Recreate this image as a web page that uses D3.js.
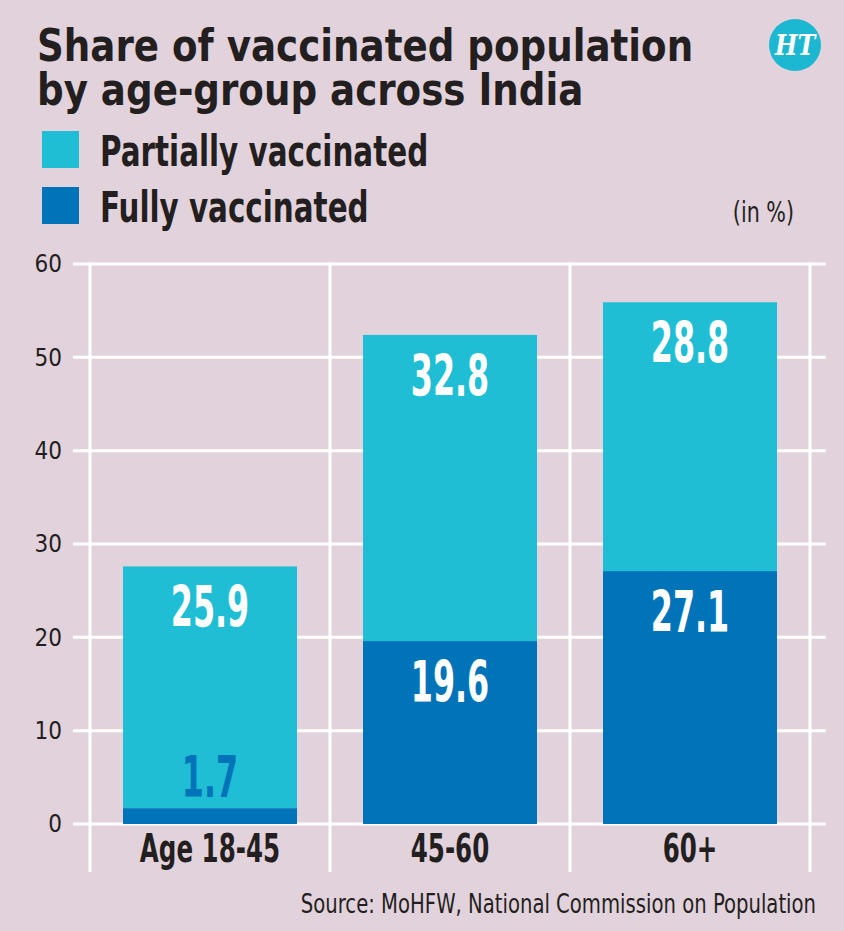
<!DOCTYPE html>
<html>
<head>
<meta charset="utf-8">
<script src="https://cdn.jsdelivr.net/npm/d3@7"></script>
<style>
  body { margin: 0; background: #e2d2dc; }
  svg text { font-family: 'Liberation Sans Narrow', 'DejaVu Sans Condensed', sans-serif; fill: #231f20; }
</style>
</head>
<body>
<div id="chart"></div>
<script>
// datos
const ageGroups = ["Age 18-45", "45-60", "60+"];
const fullyVaccinated = [1.7, 19.6, 27.1];
const partiallyVaccinated = [25.9, 32.8, 28.8];
const yTicks = [0, 10, 20, 30, 40, 50, 60];
const legendLabels = ["Partially vaccinated", "Fully vaccinated"];

const colors = { partial: "#1fbed5", fully: "#0173b9" };

const svgWidth = 844;
const svgHeight = 931;

const svg = d3.select("#chart")
  .append("svg")
  .attr("width", svgWidth)
  .attr("height", svgHeight);

svg.append("rect")
  .attr("width", svgWidth)
  .attr("height", svgHeight)
  .attr("fill", "#e2d2dc");

// texto estrecho: la fuente original es condensada, se comprime en x
function narrowText(parent, x, y, sx) {
  return parent.append("text")
    .attr("transform", `translate(${x},${y}) scale(${sx},1)`);
}

// titulo
const title = narrowText(svg, 37, 61, 0.92)
  .style("font-size", "45px")
  .style("font-weight", "bold");
title.append("tspan").attr("x", 0).text("Share of vaccinated population");
title.append("tspan").attr("x", 0).attr("dy", 44).text("by age-group across India");

// logo HT
svg.append("circle")
  .attr("cx", 795)
  .attr("cy", 45)
  .attr("r", 26)
  .attr("fill", "#1cb8d2");
narrowText(svg, 795, 55, 0.85)
  .attr("text-anchor", "middle")
  .style("font-family", "'DejaVu Serif', serif")
  .style("font-style", "italic")
  .style("font-weight", "bold")
  .style("font-size", "28px")
  .style("fill", "#fff")
  .text("HT");

// leyenda
const legend = svg.append("g");
const legendColors = [colors.partial, colors.fully];
legendLabels.forEach((label, i) => {
  legend.append("rect")
    .attr("x", 42)
    .attr("y", 131 + i * 56)
    .attr("width", 37)
    .attr("height", 37)
    .attr("fill", legendColors[i]);
  narrowText(legend, 100, 166 + i * 56, 0.76)
    .style("font-size", "43px")
    .style("font-weight", "bold")
    .text(label);
});

narrowText(svg, 794, 222, 0.82)
  .attr("text-anchor", "end")
  .style("font-size", "28px")
  .text("(in %)");

// escalas
const xScale = d3.scaleBand()
  .domain(ageGroups)
  .range([90, 810])
  .paddingInner(0.275)
  .paddingOuter(0.1375);

const yScale = d3.scaleLinear()
  .domain([0, 60])
  .range([824, 264]);

// rejilla
const grid = svg.append("g");
grid.selectAll(".hgrid")
  .data(yTicks)
  .enter().append("line")
  .attr("x1", 73)
  .attr("x2", 826)
  .attr("y1", d => yScale(d))
  .attr("y2", d => yScale(d))
  .attr("stroke", "#fff")
  .attr("stroke-width", 3);

const bounds = d3.range(ageGroups.length + 1).map(i => xScale.range()[0] + i * xScale.step());
grid.selectAll(".vgrid")
  .data(bounds)
  .enter().append("line")
  .attr("x1", d => d)
  .attr("x2", d => d)
  .attr("y1", yScale(60) - 1.5)
  .attr("y2", 872)
  .attr("stroke", "#fff")
  .attr("stroke-width", 3);

// eje y
const yAxis = svg.append("g")
  .attr("transform", "translate(73,0)")
  .call(d3.axisLeft(yScale).tickValues(yTicks).tickSize(0).tickPadding(11));
yAxis.select(".domain").remove();
yAxis.selectAll("text")
  .style("font-size", "24px")
  .style("font-family", "'Liberation Sans Narrow', 'DejaVu Sans Condensed', sans-serif")
  .attr("fill", "#231f20");

// barras apiladas
const tableData = ageGroups.map((g, i) => ({
  group: g,
  fully: fullyVaccinated[i],
  partial: partiallyVaccinated[i]
}));

const stack = d3.stack().keys(["fully", "partial"]);
const series = stack(tableData);

const layers = svg.append("g")
  .selectAll("g")
  .data(series)
  .enter().append("g")
  .attr("fill", d => colors[d.key]);

layers.selectAll("rect")
  .data(d => d)
  .enter().append("rect")
  .attr("x", d => xScale(d.data.group))
  .attr("y", d => yScale(d[1]))
  .attr("width", xScale.bandwidth())
  .attr("height", d => yScale(d[0]) - yScale(d[1]));

// etiquetas de valores
series.forEach(s => {
  s.forEach(d => {
    const segHeight = yScale(d[0]) - yScale(d[1]);
    const small = segHeight < 70;
    const cx = xScale(d.data.group) + xScale.bandwidth() / 2;
    const ty = small ? yScale(d[1]) - 11 : yScale(d[1]) + 61;
    narrowText(svg, cx, ty, 0.62)
      .attr("text-anchor", "middle")
      .style("font-size", "57px")
      .style("font-weight", "bold")
      .style("fill", small ? colors.fully : "#fff")
      .text(d3.format(".1f")(d.data[s.key]));
  });
});

// eje x
ageGroups.forEach(g => {
  narrowText(svg, xScale(g) + xScale.bandwidth() / 2, 862, 0.7)
    .attr("text-anchor", "middle")
    .style("font-size", "39px")
    .style("font-weight", "bold")
    .text(g);
});

// fuente
narrowText(svg, 816, 913, 0.84)
  .attr("text-anchor", "end")
  .style("font-size", "26px")
  .text("Source: MoHFW, National Commission on Population");
</script>
</body>
</html>
